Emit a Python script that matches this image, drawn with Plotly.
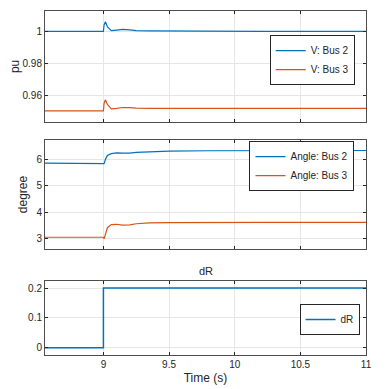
import plotly.graph_objects as go
from plotly.subplots import make_subplots

# time samples (s) around the step at t = 9 s
t = [8.555, 9.0, 9.005, 9.015, 9.03, 9.06, 9.1, 9.145, 9.2, 9.25, 9.35, 9.5, 9.8, 10.2, 11.0]

v_bus2 = [1.0, 1.0, 1.004, 1.006, 1.003, 1.0005, 1.0008, 1.0012, 1.0009, 1.0005, 1.0003, 1.0002, 1.0001, 1.0, 1.0]
v_bus3 = [0.9504, 0.9504, 0.955, 0.9573, 0.9545, 0.9517, 0.952, 0.9525, 0.9524, 0.9521, 0.952, 0.9519, 0.9519, 0.9519, 0.9519]

ang_bus2 = [5.86, 5.86, 5.84, 6.0, 6.15, 6.22, 6.25, 6.24, 6.24, 6.27, 6.3, 6.32, 6.33, 6.34, 6.34]
ang_bus3 = [3.06, 3.06, 3.0, 3.2, 3.42, 3.54, 3.55, 3.52, 3.53, 3.57, 3.6, 3.61, 3.62, 3.62, 3.62]

t_dr = [8.555, 9.0, 9.0, 11.0]
dr = [0.0, 0.0, 0.2, 0.2]

BLUE = "#0072BD"
ORANGE = "#D95319"
FONT = "Liberation Sans, Arial, sans-serif"

fig = make_subplots(rows=3, cols=1, vertical_spacing=0.0)

fig.add_trace(go.Scatter(x=t, y=v_bus2, name="V: Bus 2", mode="lines",
                         line=dict(color=BLUE, width=1.2), legend="legend"), row=1, col=1)
fig.add_trace(go.Scatter(x=t, y=v_bus3, name="V: Bus 3", mode="lines",
                         line=dict(color=ORANGE, width=1.2), legend="legend"), row=1, col=1)
fig.add_trace(go.Scatter(x=t, y=ang_bus2, name="Angle: Bus 2", mode="lines",
                         line=dict(color=BLUE, width=1.2), legend="legend2"), row=2, col=1)
fig.add_trace(go.Scatter(x=t, y=ang_bus3, name="Angle: Bus 3", mode="lines",
                         line=dict(color=ORANGE, width=1.2), legend="legend2"), row=2, col=1)
fig.add_trace(go.Scatter(x=t_dr, y=dr, name="dR", mode="lines",
                         line=dict(color=BLUE, width=1.5), legend="legend3"), row=3, col=1)

axis_common = dict(showline=True, linecolor="#4d4d4d", linewidth=1, mirror="allticks",
                   ticks="inside", ticklen=3, tickcolor="#262626",
                   showgrid=True, gridcolor="#e6e6e6", gridwidth=1, zeroline=False,
                   tickfont=dict(size=10, color="#262626", family=FONT))

xticks = [9, 9.5, 10, 10.5, 11]
for i in range(1, 4):
    fig.update_xaxes(axis_common, range=[8.555, 11], tickvals=xticks,
                     ticktext=["9", "9.5", "10", "10.5", "11"],
                     showticklabels=(i == 3), row=i, col=1)

fig.update_xaxes(title=dict(text="Time (s)", font=dict(size=12, color="#262626", family=FONT),
                            standoff=4), row=3, col=1)

fig.update_yaxes(axis_common, range=[0.9436, 1.0127], tickvals=[0.96, 0.98, 1.0],
                 ticktext=["0.96", "0.98", "1"],
                 title=dict(text="pu", font=dict(size=12, color="#262626", family=FONT), standoff=4),
                 row=1, col=1)
fig.update_yaxes(axis_common, range=[2.6, 6.75], tickvals=[3, 4, 5, 6],
                 title=dict(text="degree", font=dict(size=12, color="#262626", family=FONT), standoff=6),
                 row=2, col=1)
fig.update_yaxes(axis_common, range=[-0.024, 0.223], tickvals=[0, 0.1, 0.2],
                 ticktext=["0", "0.1", "0.2"], row=3, col=1)

fig.update_layout(
    yaxis=dict(domain=[0.678, 1.0]),
    yaxis2=dict(domain=[0.307, 0.626]),
    yaxis3=dict(domain=[0.0, 0.2145]),
)

legend_style = dict(bgcolor="white", bordercolor="#262626", borderwidth=1,
                    font=dict(size=10, color="#262626", family=FONT),
                    xanchor="left", yanchor="top", tracegroupgap=0,
                    itemwidth=30)

# the page puts the figure 8px in from the top-left corner
fig.update_layout(
    width=379, height=381,
    margin=dict(l=35, r=21, t=2, b=34),
    paper_bgcolor="white", plot_bgcolor="white",
    font=dict(family=FONT, color="#262626"),
    legend=dict(legend_style, x=0.70, y=0.93),
    legend2=dict(legend_style, x=0.637, y=0.622),
    legend3=dict(legend_style, x=0.793, y=0.148),
    annotations=[dict(text="dR", xref="paper", yref="paper", x=0.5, y=0.2145,
                      yanchor="bottom", yshift=2, showarrow=False,
                      font=dict(size=11, color="#262626", family=FONT))],
)

fig.write_html("out.html")
